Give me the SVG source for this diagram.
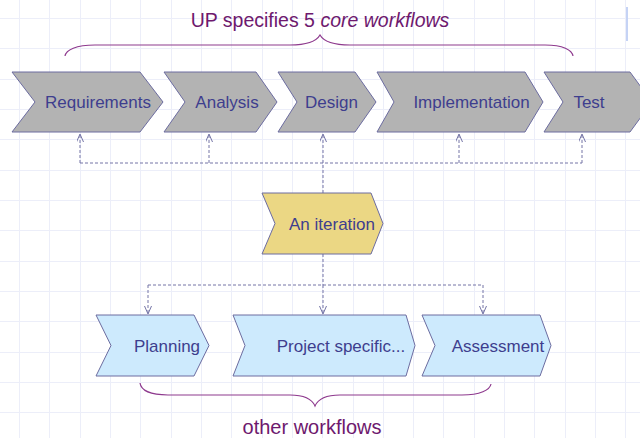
<svg xmlns="http://www.w3.org/2000/svg" width="640" height="438" viewBox="0 0 640 438">
<defs>
<style>
.grid{stroke:#eceef9;stroke-width:1;fill:none}
.chev{stroke:#6c6ca0;stroke-width:1}
.core{fill:#b3b3b3}
.iter{fill:#ebd784}
.other{fill:#cdeafd}
.lbl{font-family:"Liberation Sans",Arial,sans-serif;font-size:17px;fill:#3e3e8e;text-anchor:middle}
.cap{font-family:"Liberation Sans",Arial,sans-serif;fill:#6e196e;text-anchor:middle}
.conn{stroke:#7474a6;stroke-width:1;fill:none;stroke-dasharray:3 2}
.brace{stroke:#8e3a8e;stroke-width:1.2;fill:none}
</style>
<marker id="arr" markerUnits="userSpaceOnUse" markerWidth="12" markerHeight="10" refX="8" refY="3.5" orient="auto">
<path d="M0,0 L8,3.5 L0,7" fill="none" stroke="#7474a6" stroke-width="1" stroke-dasharray="none"/>
</marker>
</defs>
<rect width="640" height="438" fill="#ffffff"/>
<path class="grid" d="M19.5,0V438M49.5,0V438M80.5,0V438M110.5,0V438M140.5,0V438M171.5,0V438M201.5,0V438M231.5,0V438M262.5,0V438M292.5,0V438M322.5,0V438M353.5,0V438M383.5,0V438M413.5,0V438M443.5,0V438M474.5,0V438M504.5,0V438M534.5,0V438M565.5,0V438M595.5,0V438M625.5,0V438M0,18.5H640M0,48.5H640M0,79.5H640M0,109.5H640M0,139.5H640M0,170.5H640M0,200.5H640M0,230.5H640M0,261.5H640M0,291.5H640M0,321.5H640M0,352.5H640M0,382.5H640M0,412.5H640"/>
<rect x="626" y="7" width="2" height="34" fill="#c5d3f5"/>

<text class="cap" x="320" y="27" font-size="19.5">UP specifies 5 <tspan font-style="italic">core workflows</tspan></text>
<path class="brace" d="M65,56 C66,50 76,45 95,45 L290,45 C306,45 316,42 320,35 C324,42 334,45 350,45 L545,45 C563,45 572,50 573,56"/>

<g id="connectors">
<path class="conn" d="M80,163 H582"/>
<path class="conn" d="M80,163 V134" marker-end="url(#arr)"/>
<path class="conn" d="M209,163 V134" marker-end="url(#arr)"/>
<path class="conn" d="M323,193 V134" marker-end="url(#arr)"/>
<path class="conn" d="M459,163 V134" marker-end="url(#arr)"/>
<path class="conn" d="M582,163 V134" marker-end="url(#arr)"/>
<path class="conn" d="M323,254 V285 M148,285 H483"/>
<path class="conn" d="M148,285 V314" marker-end="url(#arr)"/>
<path class="conn" d="M323,285 V314" marker-end="url(#arr)"/>
<path class="conn" d="M483,285 V314" marker-end="url(#arr)"/>
</g>

<g id="requirements">
<polygon class="chev core" points="12,72 140,72 163,102 140,132 12,132 35,102"/>
<text class="lbl" x="98" y="108">Requirements</text>
</g>
<g id="analysis">
<polygon class="chev core" points="164,72 256,72 277,102 256,132 164,132 185,102"/>
<text class="lbl" x="227" y="108">Analysis</text>
</g>
<g id="design">
<polygon class="chev core" points="278,72 355,72 376,102 355,132 278,132 297,102"/>
<text class="lbl" x="331.5" y="108">Design</text>
</g>
<g id="implementation">
<polygon class="chev core" points="377,72 525,72 543,102 525,132 377,132 394,102"/>
<text class="lbl" x="471.5" y="108">Implementation</text>
</g>
<g id="test">
<polygon class="chev core" points="544,72 630,72 652,102 630,132 544,132 563,102"/>
<text class="lbl" x="589" y="108">Test</text>
</g>

<g id="iteration">
<polygon class="chev iter" points="262,193 371,193 383,223.5 371,254 262,254 275,223.5"/>
<text class="lbl" x="332" y="230">An iteration</text>
</g>

<g id="planning">
<polygon class="chev other" points="96,315 194,315 209,345.5 194,376 96,376 111,345.5"/>
<text class="lbl" x="167" y="352">Planning</text>
</g>
<g id="project">
<polygon class="chev other" points="233,315 406,315 415,345.5 406,376 233,376 245,345.5"/>
<text class="lbl" x="341" y="352">Project specific...</text>
</g>
<g id="assessment">
<polygon class="chev other" points="422,315 540,315 551,345.5 540,376 422,376 435,345.5"/>
<text class="lbl" x="498" y="352">Assessment</text>
</g>

<path class="brace" d="M140,383 C141,390 150,395 168,395 L290,395 C305,395 312,399 315,406 C318,399 325,395 340,395 L462,395 C480,395 490,390 491,384"/>
<text class="cap" x="312" y="434" font-size="20">other workflows</text>
</svg>
